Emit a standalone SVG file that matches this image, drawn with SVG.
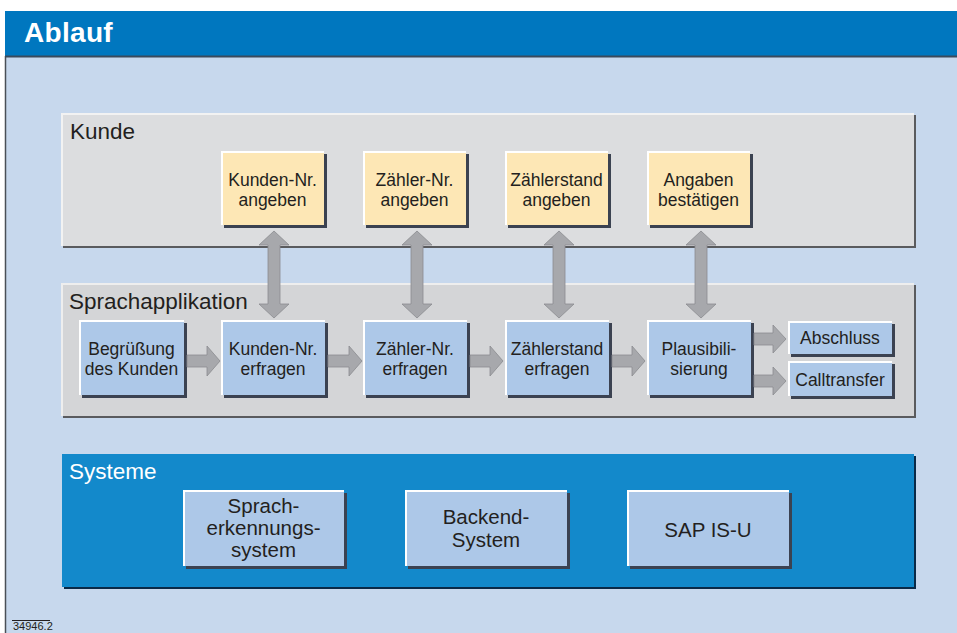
<svg xmlns="http://www.w3.org/2000/svg" width="957" height="633" viewBox="0 0 957 633">
<style>
text{font-family:"Liberation Sans",Arial,sans-serif;fill:#231f20}
.t{font-size:17.5px;text-anchor:middle}
.ts{font-size:20.5px;text-anchor:middle}
.title{font-size:22.5px}
.sh{fill:#3b4251}
.hl{fill:none;stroke:#ffffff;stroke-width:2}
.k{fill:#fde7b5}
.s{fill:#adc8e8}
.arr{fill:#a7a8ac;stroke:#8a8b8f;stroke-width:0.8;stroke-linejoin:miter}
</style>
<rect x="0" y="0" width="957" height="633" fill="#ffffff"/>
<rect x="5" y="56" width="952" height="577" fill="#c7d8ed"/>
<line x1="5.5" y1="56" x2="5.5" y2="633" stroke="#4a4f57" stroke-width="1.5"/>
<g id="header">
<rect x="5" y="11" width="952" height="45" fill="#0077bf"/>
<rect x="5" y="55.5" width="952" height="2" fill="#3a4a5c"/>
<text x="24" y="42" style="font-size:28px;font-weight:bold;fill:#ffffff;letter-spacing:0.3px">Ablauf</text>
</g>
<g id="panel-kunde">
<rect x="63" y="115" width="853" height="133" fill="#5a5b5e"/>
<rect x="61" y="113" width="853" height="133" fill="#dcdddf"/>
<path d="M62 246 V114 H914" fill="none" stroke="#f2f2f2" stroke-width="2"/>
<text class="title" x="70" y="139">Kunde</text>
</g>
<g id="panel-sprach">
<rect x="63" y="285" width="853" height="133" fill="#5a5b5e"/>
<rect x="61" y="283" width="853" height="133" fill="#d4d5d7"/>
<path d="M62 416 V284 H914" fill="none" stroke="#eeeeee" stroke-width="2"/>
<text class="title" x="69" y="309">Sprachapplikation</text>
</g>
<g id="panel-systeme">
<rect x="64" y="456" width="852" height="133" fill="#0a2a48"/>
<rect x="62" y="454" width="852" height="133" fill="#1389cb"/>
<text class="title" x="69" y="479" style="fill:#ffffff">Systeme</text>
</g>
<g id="kunden-nr-angeben">
<rect class="sh" x="224" y="154" width="103" height="74"/><rect class="k" x="221" y="151" width="103" height="74"/><path class="hl" d="M222 225 V152 H324"/>
<text class="t" x="272.5" y="186">Kunden-Nr.</text><text class="t" x="272.5" y="206">angeben</text>
</g>
<g id="zaehler-nr-angeben">
<rect class="sh" x="366" y="154" width="103" height="74"/><rect class="k" x="363" y="151" width="103" height="74"/><path class="hl" d="M364 225 V152 H466"/>
<text class="t" x="414.5" y="186">Zähler-Nr.</text><text class="t" x="414.5" y="206">angeben</text>
</g>
<g id="zaehlerstand-angeben">
<rect class="sh" x="508" y="154" width="103" height="74"/><rect class="k" x="505" y="151" width="103" height="74"/><path class="hl" d="M506 225 V152 H608"/>
<text class="t" x="556.5" y="186">Zählerstand</text><text class="t" x="556.5" y="206">angeben</text>
</g>
<g id="angaben-bestaetigen">
<rect class="sh" x="650" y="154" width="103" height="74"/><rect class="k" x="647" y="151" width="103" height="74"/><path class="hl" d="M648 225 V152 H750"/>
<text class="t" x="698.5" y="186">Angaben</text><text class="t" x="698.5" y="206">bestätigen</text>
</g>
<g id="begruessung">
<rect class="sh" x="82" y="323" width="105" height="75"/><rect class="s" x="79" y="320" width="105" height="75"/><path class="hl" d="M80 395 V321 H184"/>
<text class="t" x="131.5" y="355">Begrüßung</text><text class="t" x="131.5" y="375">des Kunden</text>
</g>
<g id="kunden-nr-erfragen">
<rect class="sh" x="224" y="323" width="104" height="75"/><rect class="s" x="221" y="320" width="104" height="75"/><path class="hl" d="M222 395 V321 H325"/>
<text class="t" x="273" y="355">Kunden-Nr.</text><text class="t" x="273" y="375">erfragen</text>
</g>
<g id="zaehler-nr-erfragen">
<rect class="sh" x="366" y="323" width="104" height="75"/><rect class="s" x="363" y="320" width="104" height="75"/><path class="hl" d="M364 395 V321 H467"/>
<text class="t" x="415" y="355">Zähler-Nr.</text><text class="t" x="415" y="375">erfragen</text>
</g>
<g id="zaehlerstand-erfragen">
<rect class="sh" x="508" y="323" width="104" height="75"/><rect class="s" x="505" y="320" width="104" height="75"/><path class="hl" d="M506 395 V321 H609"/>
<text class="t" x="557" y="355">Zählerstand</text><text class="t" x="557" y="375">erfragen</text>
</g>
<g id="plausibilisierung">
<rect class="sh" x="650" y="323" width="104" height="75"/><rect class="s" x="647" y="320" width="104" height="75"/><path class="hl" d="M648 395 V321 H751"/>
<text class="t" x="699" y="355">Plausibili-</text><text class="t" x="699" y="375">sierung</text>
</g>
<g id="abschluss">
<rect class="sh" x="791" y="324" width="104" height="33"/><rect class="s" x="788" y="321" width="104" height="33"/><path class="hl" d="M789 354 V322 H892"/>
<text class="t" x="840" y="344">Abschluss</text>
</g>
<g id="calltransfer">
<rect class="sh" x="791" y="364" width="104" height="35"/><rect class="s" x="788" y="361" width="104" height="35"/><path class="hl" d="M789 396 V362 H892"/>
<text class="t" x="840" y="386">Calltransfer</text>
</g>
<g id="spracherkennungssystem">
<rect class="sh" x="186" y="493" width="161" height="76"/><rect class="s" x="183" y="490" width="161" height="76"/><path class="hl" d="M184 566 V491 H344"/>
<text class="ts" x="263.5" y="513">Sprach-</text><text class="ts" x="263.5" y="535">erkennungs-</text><text class="ts" x="263.5" y="557">system</text>
</g>
<g id="backend-system">
<rect class="sh" x="408" y="493" width="162" height="76"/><rect class="s" x="405" y="490" width="162" height="76"/><path class="hl" d="M406 566 V491 H567"/>
<text class="ts" x="486" y="524">Backend-</text><text class="ts" x="486" y="547">System</text>
</g>
<g id="sap-is-u">
<rect class="sh" x="630" y="493" width="162" height="76"/><rect class="s" x="627" y="490" width="162" height="76"/><path class="hl" d="M628 566 V491 H789"/>
<text class="ts" x="708" y="537">SAP IS-U</text>
</g>
<g id="connectors">
<path class="arr" d="M274 231 L289 245 L280 245 L280 304 L289 304 L274 318 L259 304 L268 304 L268 245 L259 245 Z"/>
<path class="arr" d="M417 231 L432 245 L423 245 L423 304 L432 304 L417 318 L402 304 L411 304 L411 245 L402 245 Z"/>
<path class="arr" d="M559 231 L574 245 L565 245 L565 304 L574 304 L559 318 L544 304 L553 304 L553 245 L544 245 Z"/>
<path class="arr" d="M701 231 L716 245 L707 245 L707 304 L716 304 L701 318 L686 304 L695 304 L695 245 L686 245 Z"/>
<path class="arr" d="M187 355 H207 V346 L220 361 L207 376 V367 H187 Z"/>
<path class="arr" d="M328 355 H349 V346 L362 361 L349 376 V367 H328 Z"/>
<path class="arr" d="M470 355 H490 V346 L503 361 L490 376 V367 H470 Z"/>
<path class="arr" d="M612 355 H632 V346 L645 361 L632 376 V367 H612 Z"/>
<path class="arr" d="M754 333 H773 V325 L786 339 L773 353 V345 H754 Z"/>
<path class="arr" d="M754 375 H773 V367 L786 381 L773 395 V387 H754 Z"/>
</g>
<g id="figure-number">
<line x1="12" y1="620.5" x2="50" y2="620.5" stroke="#231f20" stroke-width="1"/>
<text x="13" y="630" style="font-size:11px">34946.2</text>
</g>
</svg>
